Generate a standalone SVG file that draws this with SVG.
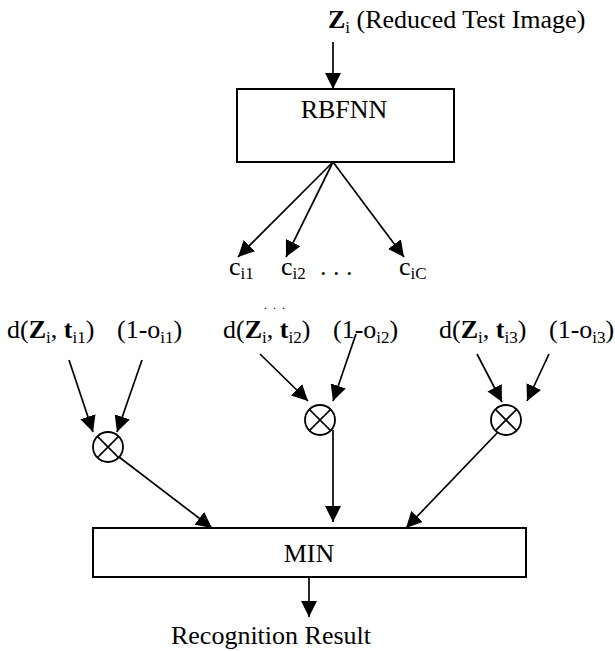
<svg xmlns="http://www.w3.org/2000/svg" width="615" height="651" viewBox="0 0 615 651">
<style>
text{font-family:"Liberation Serif","Times New Roman",serif;font-size:26px;fill:#000}
.b{font-weight:bold}
.s{font-size:17px}
.box{fill:#fff;stroke:#000;stroke-width:2}
.ln{stroke:#000;stroke-width:1.6;fill:none}
.ar{stroke:#000;stroke-width:1.7;fill:none;marker-end:url(#ah)}
.mul{fill:#fff;stroke:#000;stroke-width:1.8}
</style>
<defs>
<marker id="ah" markerUnits="userSpaceOnUse" markerWidth="17" markerHeight="16" refX="16" refY="8" orient="auto">
<path d="M0,0 L16,8 L0,16 z" fill="#000"/>
</marker>
</defs>
<g id="connectors">
<line class="ar" x1="333" y1="42" x2="333" y2="89"/>
<line class="ar" x1="333" y1="162" x2="238" y2="257"/>
<line class="ar" x1="333" y1="162" x2="286" y2="257"/>
<line class="ar" x1="333" y1="162" x2="404" y2="257"/>
<line class="ar" x1="69" y1="360" x2="93" y2="432"/>
<line class="ar" x1="142" y1="360" x2="117" y2="432"/>
<line class="ar" x1="260" y1="354" x2="308" y2="401"/>
<line class="ar" x1="356" y1="334" x2="333" y2="401"/>
<line class="ar" x1="477" y1="354" x2="502" y2="402"/>
<line class="ar" x1="549" y1="354" x2="527" y2="401"/>
<line class="ar" x1="119" y1="457" x2="212" y2="528"/>
<line class="ar" x1="333" y1="430" x2="333" y2="522"/>
<line class="ar" x1="500" y1="430" x2="406" y2="528"/>
<line class="ar" x1="309" y1="577" x2="309" y2="617"/>
</g>
<g id="input">
<text x="328" y="28"><tspan class="b">Z</tspan><tspan class="s" dy="5">i</tspan><tspan dy="-5"> (Reduced Test Image)</tspan></text>
</g>
<g id="rbfnn">
<rect class="box" x="237" y="89" width="217" height="73"/>
<text x="344" y="118" text-anchor="middle">RBFNN</text>
</g>
<g id="c1"><text x="229" y="275">c<tspan class="s" dy="4">i1</tspan></text></g>
<g id="c2"><text x="281" y="275">c<tspan class="s" dy="4">i2</tspan></text></g>
<g id="cdots"><text x="320" y="275">. . .</text></g>
<g id="cC"><text x="399" y="275">c<tspan class="s" dy="4">iC</tspan></text></g>
<g id="d1"><text x="7" y="338">d(<tspan class="b">Z</tspan><tspan class="s" dy="5">i</tspan><tspan dy="-5">, </tspan><tspan class="b">t</tspan><tspan class="s" dy="5">i1</tspan><tspan dy="-5">)</tspan></text></g>
<g id="o1"><text x="117" y="338">(1-o<tspan class="s" dy="5">i1</tspan><tspan dy="-5">)</tspan></text></g>
<g id="ddots"><text x="264" y="309" style="font-size:12px;letter-spacing:6px">...</text></g>
<g id="d2"><text x="223" y="338">d(<tspan class="b">Z</tspan><tspan class="s" dy="5">i</tspan><tspan dy="-5">, </tspan><tspan class="b">t</tspan><tspan class="s" dy="5">i2</tspan><tspan dy="-5">)</tspan></text></g>
<g id="o2"><text x="333" y="338">(1-o<tspan class="s" dy="5">i2</tspan><tspan dy="-5">)</tspan></text></g>
<g id="d3"><text x="439" y="338">d(<tspan class="b">Z</tspan><tspan class="s" dy="5">i</tspan><tspan dy="-5">, </tspan><tspan class="b">t</tspan><tspan class="s" dy="5">i3</tspan><tspan dy="-5">)</tspan></text></g>
<g id="o3"><text x="549" y="338">(1-o<tspan class="s" dy="5">i3</tspan><tspan dy="-5">)</tspan></text></g>
<g id="mul1">
<circle class="mul" cx="108" cy="447" r="15"/>
<path class="ln" d="M97.4,436.4 L118.6,457.6 M118.6,436.4 L97.4,457.6"/>
</g>
<g id="mul2">
<circle class="mul" cx="320" cy="420" r="15"/>
<path class="ln" d="M309.4,409.4 L330.6,430.6 M330.6,409.4 L309.4,430.6"/>
</g>
<g id="mul3">
<circle class="mul" cx="506" cy="420" r="15"/>
<path class="ln" d="M495.4,409.4 L516.6,430.6 M516.6,409.4 L495.4,430.6"/>
</g>
<g id="min">
<rect class="box" x="93" y="528" width="433" height="49"/>
<text x="309" y="562" text-anchor="middle">MIN</text>
</g>
<g id="result">
<text x="271" y="644" text-anchor="middle">Recognition Result</text>
</g>
</svg>
